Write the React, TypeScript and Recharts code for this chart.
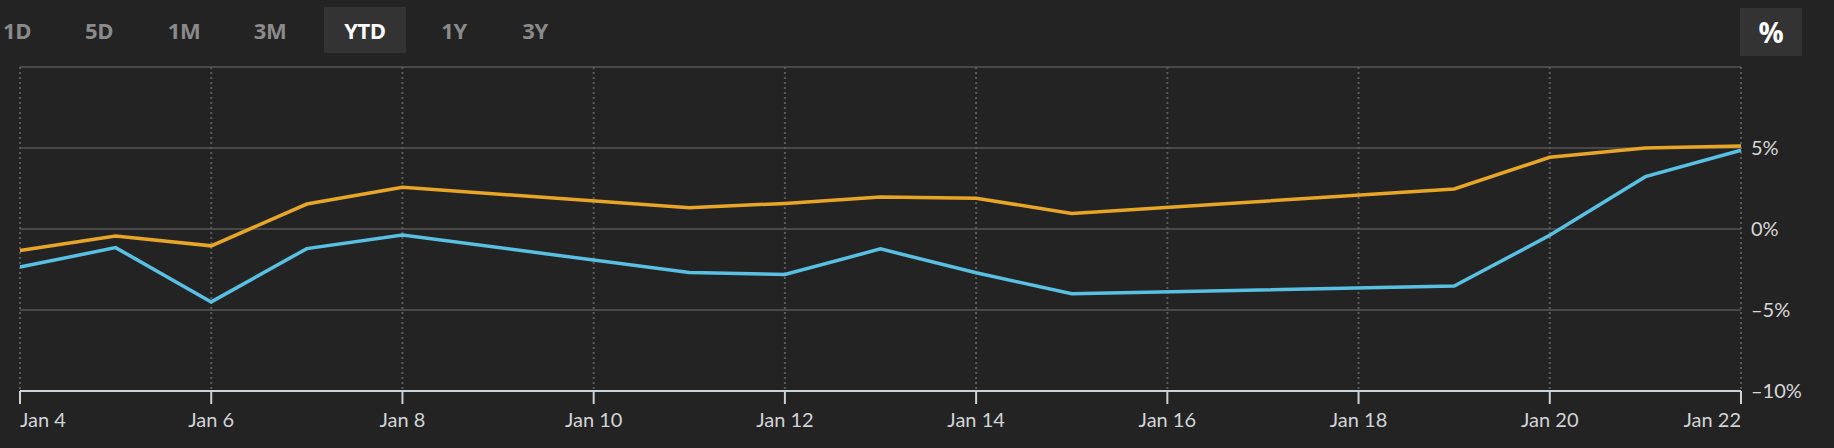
import { CartesianGrid, Line, LineChart, XAxis, YAxis } from "recharts";

document.body.style.margin = "0";
document.body.style.background = "#232323";

const days = [4, 5, 6, 7, 8, 11, 12, 13, 14, 15, 19, 20, 21, 22];
const goldSeries = [-1.33, -0.44, -1.04, 1.54, 2.58, 1.31, 1.58, 1.98, 1.9, 0.96, 2.47, 4.43, 5.0, 5.13];
const blueSeries = [-2.35, -1.15, -4.5, -1.21, -0.37, -2.69, -2.81, -1.23, -2.7, -4.0, -3.52, -0.39, 3.23, 4.86];
const xTicks = [4, 6, 8, 10, 12, 14, 16, 18, 20, 22];
const yTicks = [-10, -5, 0, 5, 10];
const ranges = ["1D", "5D", "1M", "3M", "YTD", "1Y", "3Y"];

const data = days.map((day, i) => ({ day, gold: goldSeries[i], blue: blueSeries[i] }));

const font = "'Open Sans', 'DejaVu Sans', sans-serif";
const tickFont = "Lato, 'Open Sans', sans-serif";

function XTick({ x, y, payload, index }: any) {
	const last = xTicks.length - 1;
	const anchor = index === 0 ? "start" : index === last ? "end" : "middle";
	return (
		<text x={x} y={y + 21} textAnchor={anchor} fill="#d0d4d8" fontSize={20} fontFamily={tickFont}>
			{`Jan ${payload.value}`}
		</text>
	);
}

function YTick({ x, y, payload }: any) {
	if (payload.value === 10) return null;
	const label = payload.value < 0 ? `\u2013${Math.abs(payload.value)}%` : `${payload.value}%`;
	return (
		<text x={x} y={y + 7} textAnchor="start" fill="#d8d8d8" fontSize={20} fontFamily={tickFont}>
			{label}
		</text>
	);
}

export default function App() {
	return (
		<div style={{ position: "relative", width: 1834, height: 448, background: "#232323", overflow: "hidden" }}>
			{ranges.map((r, i) => {
				const active = r === "YTD";
				const centers = [17, 99, 184, 270, 365, 454, 535];
				return (
					<div
						key={r}
						style={{
							position: "absolute",
							left: centers[i] - 41,
							top: 7,
							width: 82,
							height: 46,
							lineHeight: "46px",
							textAlign: "center",
							background: active ? "#333333" : "transparent",
							color: active ? "#ffffff" : "#8a8a8a",
							fontFamily: font,
							fontWeight: 700,
							fontSize: 22,
							letterSpacing: -0.5,
						}}
					>
						{r}
					</div>
				);
			})}
			<div
				style={{
					position: "absolute",
					left: 1740,
					top: 8,
					width: 62,
					height: 48,
					lineHeight: "48px",
					textAlign: "center",
					background: "#333333",
					color: "#ffffff",
					fontFamily: font,
					fontWeight: 700,
					fontSize: 28,
				}}
			>
				%
			</div>
			<div style={{ position: "absolute", left: 0, top: 0 }}>
				<LineChart width={1834} height={448} data={data} margin={{ top: 67, right: 33, bottom: 17, left: 20 }}>
					<CartesianGrid vertical={false} stroke="#484848" strokeWidth={2} />
					<CartesianGrid horizontal={false} stroke="#5a5a5a" strokeDasharray="2 3" strokeWidth={2} />
					<XAxis
						dataKey="day"
						type="number"
						domain={[4, 22]}
						ticks={xTicks}
						interval={0}
						height={40}
						stroke="#c8d2d8"
						strokeWidth={2}
						tickSize={13}
						tick={<XTick />}
					/>
					<YAxis
						orientation="right"
						type="number"
						domain={[-10, 10]}
						ticks={yTicks}
						interval={0}
						width={60}
						axisLine={false}
						tickLine={false}
						tickSize={0}
						tickMargin={10}
						tick={<YTick />}
					/>
					<Line dataKey="gold" type="linear" stroke="#e8a626" strokeWidth={3.5} dot={false} isAnimationActive={false} />
					<Line dataKey="blue" type="linear" stroke="#58c0e2" strokeWidth={3.5} dot={false} isAnimationActive={false} />
				</LineChart>
			</div>
		</div>
	);
}
